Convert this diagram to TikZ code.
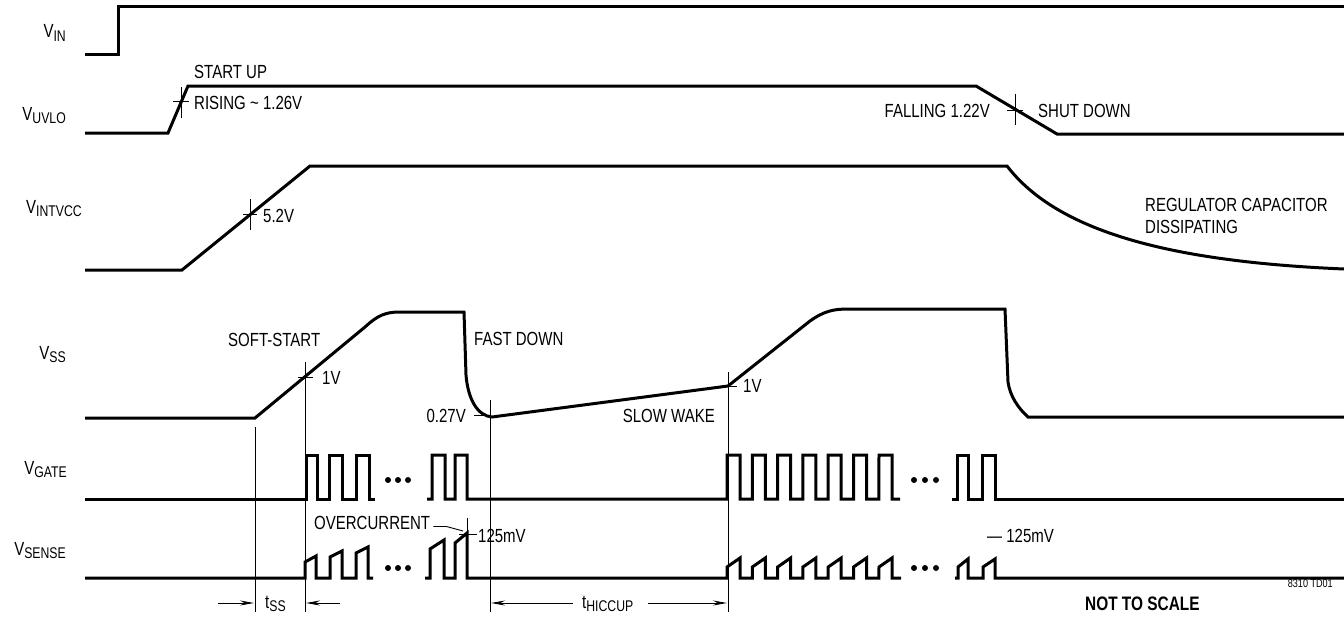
\documentclass[tikz,border=0pt]{standalone}
\usepackage{fontspec}
\setmainfont{Liberation Sans}[FakeStretch=0.79]
\usetikzlibrary{arrows.meta}
\newcommand\sbs[1]{\raisebox{-3pt}{\fontsize{15.5}{16}\selectfont #1}}
\begin{document}
\begin{tikzpicture}[x=1pt,y=-1pt,
  sig/.style={line width=3pt},
  mk/.style={line width=0.9pt},
  arr/.style={mk,-{Stealth[length=14pt,width=5pt]}},
  lbl/.style={inner sep=0pt,font=\fontsize{19}{21}\selectfont},
  dot/.style={fill,circle,inner sep=0pt,minimum size=6pt}]
\useasboundingbox (0,0) rectangle (1344,618);

% ---- signal names
\node[lbl,anchor=base east] (nin)   at (66,38)  {V\sbs{IN}};
\node[lbl,anchor=base east] (nuv)   at (66,120) {V\sbs{UVLO}};
\node[lbl,anchor=base east] (nint)  at (82,213) {V\sbs{INTVCC}};
\node[lbl,anchor=base east] (nss)   at (66,359) {V\sbs{SS}};
\node[lbl,anchor=base east] (ngate) at (67,474) {V\sbs{GATE}};
\node[lbl,anchor=base east] (nsen)  at (66,555) {V\sbs{SENSE}};

% ---- V_IN
\draw[sig] (85,55) -- (118,55) -- (118,7) -- (1344,7);

% ---- V_UVLO
\draw[sig] (85,133) -- (168,133) -- (188,86) -- (976,86) -- (1057,134) -- (1344,134);
\draw[mk] (181.5,87) -- (181.5,118) (173,101) -- (189,101);
\draw[mk] (1015,94) -- (1015,125) (1007,110) -- (1023,110);
\node[lbl,anchor=base west] (su)  at (194,78)  {START UP};
\node[lbl,anchor=base west] (ris) at (194,110) {RISING \char`\~{} 1.26V};
\node[lbl,anchor=base east] (fal) at (990,117) {FALLING 1.22V};
\node[lbl,anchor=base west] (sd)  at (1038,117) {SHUT DOWN};

% ---- V_INTVCC
\draw[sig] (85,270) -- (182,270) -- (310,166) -- (1007,166)
  .. controls (1060,235) and (1180,262) .. (1344,269);
\draw[mk] (250,199) -- (250,230) (243,214) -- (257,214);
\node[lbl,anchor=base west] (v52) at (263,222) {5.2V};
\node[lbl,anchor=base west] (reg) at (1145,211) {REGULATOR CAPACITOR};
\node[lbl,anchor=base west] (dis) at (1145,233) {DISSIPATING};

% ---- V_SS
\draw[sig] (85,418) -- (255,418) -- (365,327)
  .. controls (378,315) and (386,312) .. (400,312) -- (464,312)
  -- (466,375) .. controls (468,400) and (478,416) .. (492,417)
  -- (728,386) -- (810,321)
  .. controls (824,311) and (834,309) .. (848,309) -- (1005,309)
  -- (1008,382) .. controls (1010,396) and (1018,408) .. (1028,417) -- (1344,417);
\draw[mk] (255,427) -- (255,612);
\draw[mk] (305,362) -- (305,612) (298,377) -- (313,377);
\draw[mk] (490,400) -- (490,612) (474,415) -- (488,415);
\draw[mk] (728,372) -- (728,612) (728,386) -- (737,386);
\node[lbl,anchor=base west] (sst) at (228,346) {SOFT-START};
\node[lbl,anchor=base west] (v1a) at (322,384) {1V};
\node[lbl,anchor=base west] (fd)  at (474,345) {FAST DOWN};
\node[lbl,anchor=base east] (v27) at (466,422) {0.27V};
\node[lbl,anchor=base east] (sw)  at (715,422) {SLOW WAKE};
\node[lbl,anchor=base west] (v1b) at (743,392) {1V};

% ---- V_GATE
\draw[sig] (85,499) -- (306,499) -- (306,455) -- (317,455) -- (317,499)
  -- (329,499) -- (329,455) -- (342,455) -- (342,499)
  -- (356,499) -- (356,455) -- (369,455) -- (369,499) -- (375,499);
\draw[sig] (427,499) -- (432,499) -- (432,455) -- (445,455) -- (445,499)
  -- (455,499) -- (455,455) -- (467,455) -- (467,499) -- (727,499)
  foreach \i in {0,...,5} { -- ({727+25.3*\i},455) -- ({740+25.3*\i},455)
     -- ({740+25.3*\i},499) -- ({752.3+25.3*\i},499) }
  -- (879,455) -- (892,455) -- (892,499) -- (900,499);
\draw[sig] (952,499) -- (957,499) -- (957,455) -- (968,455) -- (968,499)
  -- (982,499) -- (982,455) -- (995,455) -- (995,499) -- (1344,499);
\foreach \x in {388,398,408,914,925,936} \node[dot] at (\x,480) {};

% ---- V_SENSE
\draw[sig] (85,578) -- (305,578) -- (305,562) -- (316,556) -- (316,578)
  -- (330,578) -- (330,557) -- (342,551) -- (342,578)
  -- (356,578) -- (356,553) -- (368,547) -- (368,578) -- (373,578);
\draw[sig] (425,578) -- (430,578) -- (430,549) -- (444,540) -- (444,578)
  -- (455,578) -- (455,543) -- (467,533) -- (467,578) -- (727,578)
  foreach \i in {0,...,5} { -- ({727+25.3*\i},567) -- ({740+25.3*\i},558)
     -- ({740+25.3*\i},578) -- ({752.3+25.3*\i},578) }
  -- (879,567) -- (892,558) -- (892,578) -- (901,578);
\draw[sig] (955,578) -- (958,578) -- (958,567) -- (968,559) -- (968,578)
  -- (983,578) -- (983,567) -- (995,559) -- (995,578) -- (1344,578);
\foreach \x in {388,398,408,914,925,936} \node[dot] at (\x,568) {};
\draw[mk] (467,518) -- (467,537) (459,534) -- (477,534);
\node[lbl,anchor=base west] (oc) at (314,529) {OVERCURRENT};
\coordinate (ocp) at (463,531);
\draw[mk] (oc.east) ++(3pt,-4pt) -- ++(13pt,0) -- (ocp);
\node[lbl,anchor=base west] (m125a) at (478,542) {125mV};
\node[lbl,anchor=base west] (m125b) at (987,542) {— 125mV};

% ---- timing arrows
\node[lbl,anchor=base west] (tss) at (265,608) {t\sbs{SS}};
\node[lbl,anchor=base west] (thic) at (582,608) {t\sbs{HICCUP}};
\draw[arr] (218,603) -- (254,603);
\draw[arr] (340,603) -- (306,603);
\draw[arr] (573,603) -- (491,603);
\draw[arr] (648,603) -- (727,603);

\node[inner sep=0pt,anchor=base west,font=\fontsize{19.5}{21}\selectfont\bfseries] (nts) at (1085,610) {NOT TO SCALE};
\node[inner sep=0pt,anchor=base east,font=\fontsize{11.5}{12}\selectfont] (td) at (1333,587) {8310 TD01};
\end{tikzpicture}
\end{document}
